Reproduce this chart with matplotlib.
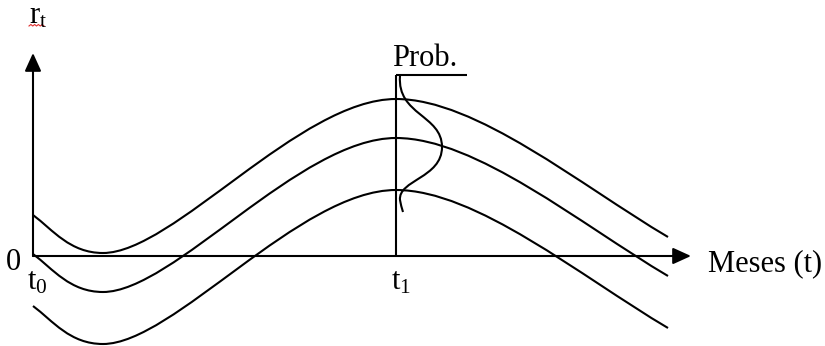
import numpy as np
import matplotlib
matplotlib.use('Agg')
import matplotlib.pyplot as plt
from matplotlib.path import Path
from matplotlib.patches import PathPatch

plt.rcParams['font.family'] = ['Liberation Serif', 'DejaVu Serif']
plt.rcParams['mathtext.fontset'] = 'custom'
plt.rcParams['mathtext.rm'] = 'Liberation Serif'
plt.rcParams['mathtext.it'] = 'Liberation Serif:italic'

# curva base (ancoras e alcas de Bezier), t desde a origem, r acima do eixo
curve_t = [0, 20, 37, 70, 140, 267, 363, 443, 547, 635]
curve_r = [41, 26, 3, 3, 3, 157, 157, 157, 71, 19]
curve_offsets = [0, -39, -91]

# densidade de probabilidade em t1 (deitada)
density_t = [367, 364, 409, 409, 409, 365, 367, 368, 370]
density_r = [180, 141, 141, 109, 78, 76, 56, 50, 44]

t1 = 363
prob_top = 181
prob_bar_end = 434
x_axis_end = 658
y_axis_end = 203

fig = plt.figure(figsize=(8.25, 3.46), dpi=100)
ax = fig.add_axes([0, 0, 1, 1])
ax.set_xlim(-33, 792)
ax.set_ylim(-90, 256)
ax.axis('off')

lw = 1.5
curve_codes = [Path.MOVETO] + [Path.CURVE4] * 9
for off in curve_offsets:
    verts = [(t, r + off) for t, r in zip(curve_t, curve_r)]
    ax.add_patch(PathPatch(Path(verts, curve_codes), fill=False, lw=lw, color='black'))

dens_codes = [Path.MOVETO] + [Path.CURVE4] * 6 + [Path.CURVE3] * 2
ax.add_patch(PathPatch(Path(list(zip(density_t, density_r)), dens_codes),
                       fill=False, lw=lw, color='black'))

# eixos com setas
arrow = dict(arrowstyle='-|>,head_length=0.55,head_width=0.25', mutation_scale=20,
             lw=lw, color='black', shrinkA=0, shrinkB=0)
ax.annotate('', xy=(x_axis_end, 0), xytext=(0, 0), arrowprops=arrow)
ax.annotate('', xy=(0, y_axis_end), xytext=(0, 0), arrowprops=arrow)

ax.plot([t1, t1], [0, prob_top], color='black', lw=lw, solid_capstyle='butt')
ax.plot([t1, prob_bar_end], [prob_top, prob_top], color='black', lw=lw, solid_capstyle='butt')

fs = 22
ax.text(-4, 233, r'$\mathrm{r_t}$', fontsize=fs, ha='left', va='baseline')
sq_x = np.linspace(-4, 11, 9)
ax.plot(sq_x, 230 + np.tile([0, 1.5], 5)[:9], color='#e03030', lw=0.8)
ax.text(-20, -14, '0', fontsize=fs, ha='center', va='baseline')
ax.text(-6, -34, r'$\mathrm{t_0}$', fontsize=fs, ha='left', va='baseline')
ax.text(358, -34, r'$\mathrm{t_1}$', fontsize=fs, ha='left', va='baseline')
ax.text(675, -15, 'Meses (t)', fontsize=fs, ha='left', va='baseline')
ax.text(359, 190, 'Prob.', fontsize=fs, ha='left', va='baseline')

fig.savefig('out.png', dpi=100)
